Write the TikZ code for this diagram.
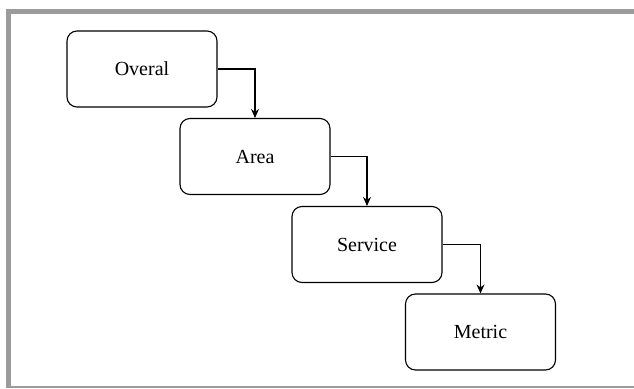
\documentclass[tikz,border=0pt]{standalone}
\usepackage{fontspec}
\setmainfont{Liberation Serif}
\usetikzlibrary{arrows.meta, positioning}
\definecolor{framegray}{RGB}{155,155,155}

\begin{document}
\begin{tikzpicture}[x=1pt, y=1pt,
        box/.style={draw, line width=1.1pt, minimum width=150pt, minimum height=76pt,
                    font=\fontsize{20}{24}\selectfont, rounded corners=10pt, inner sep=0pt},
        arr/.style={-{Stealth[length=9pt, width=8pt]}, line width=1.1pt}
      ]
        \useasboundingbox (0,0) rectangle (634,388);

        % frame
        \fill[framegray] (6,374) rectangle (634,379);
        \fill[framegray] (6,1) rectangle (11,379);
        \fill[framegray] (6,0.3) rectangle (634,1.8);

        \node[box] (overal) at (142,319) {Overal};
        \node[box] (area) at (255,231.5) {Area};
        \node[box] (service) at (367,143.5) {Service};
        \node[box] (metric) at (480.5,56) {Metric};

        \draw[arr] (overal.east) -| (area.north);
        \draw[arr] (area.east) -| (service.north);
        \draw[arr] (service.east) -| (metric.north);
      \end{tikzpicture}
\end{document}
